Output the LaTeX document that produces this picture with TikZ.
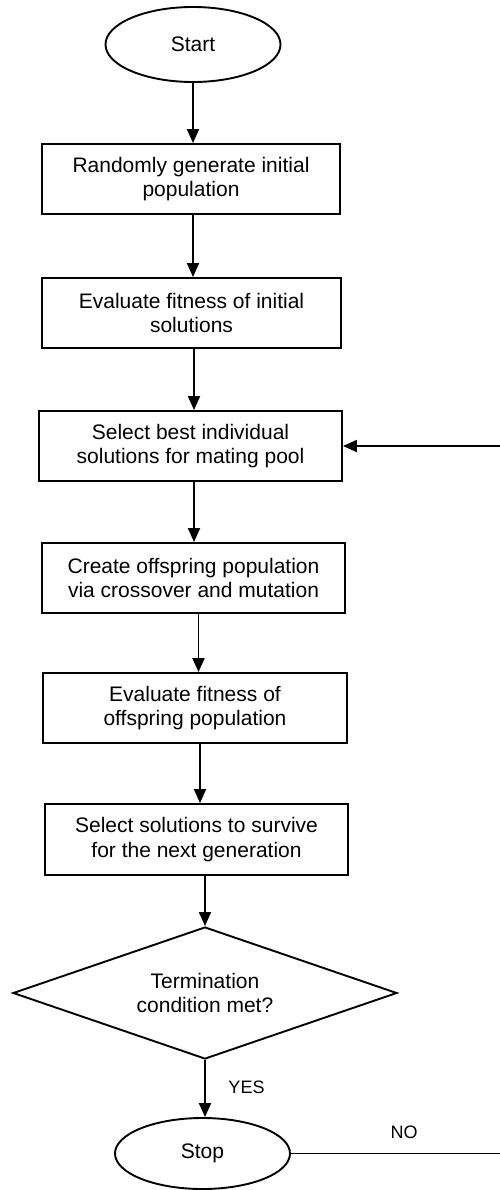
\documentclass[tikz,border=0pt]{standalone}
\usepackage{fontspec}
\setmainfont{Liberation Sans}
\usetikzlibrary{arrows.meta,shapes.geometric}
\begin{document}
\begin{tikzpicture}[x=1pt,y=-1pt,
  every node/.style={font=\fontsize{21}{24.5}\selectfont},
  line/.style={line width=1.9pt},
  arr/.style={line, -{Triangle[length=14pt,width=12pt]}},
  stepbox/.style={draw, line width=1.9pt, rectangle, inner sep=0pt,
    minimum height=70pt, align=center},
  terminal/.style={draw, line width=1.9pt, ellipse, inner sep=0pt,
    minimum width=175pt},
  decision/.style={draw, line width=1.9pt, diamond, aspect=2.9, inner sep=0pt,
    minimum width=384pt, minimum height=132pt, align=center},
  label/.style={font=\fontsize{18}{21}\selectfont}]
  % page frame
  \useasboundingbox (0,0) rectangle (499,1190);

  % flow steps
  \node[terminal, minimum height=75pt] (start) at (193,44.5) {Start};
  \node[stepbox, minimum width=298pt] (b1) at (191,179)
    {Randomly generate initial\\population};
  \node[stepbox, minimum width=299pt] (b2) at (191.5,313)
    {Evaluate fitness of initial\\solutions};
  \node[stepbox, minimum width=303pt] (b3) at (190.5,446)
    {Select best individual\\solutions for mating pool};
  \node[stepbox, minimum width=303pt] (b4) at (193.5,578)
    {Create offspring population\\via crossover and mutation};
  \node[stepbox, minimum width=304pt] (b5) at (195,708)
    {Evaluate fitness of\\offspring population};
  \node[stepbox, minimum width=303pt, minimum height=71pt] (b6) at (196.5,839.5)
    {Select solutions to survive\\for the next generation};
  \node[decision] (dec) at (205,993) {Termination\\condition met?};
  \node[terminal, minimum height=71pt] (stop) at (202.5,1153.5) {Stop};

  % connectors
  \draw[arr] (start.south) -- (start.south |- b1.north);
  \draw[arr] ([xshift=2pt]b1.south) -- ([xshift=2pt]b1.south |- b2.north);
  \draw[arr] ([xshift=2.5pt]b2.south) -- ([xshift=2.5pt]b2.south |- b3.north);
  \draw[arr] ([xshift=3.5pt]b3.south) -- ([xshift=3.5pt]b3.south |- b4.north);
  \draw[arr] ([xshift=5pt]b4.south) -- ([xshift=5pt]b4.south |- b5.north);
  \draw[arr] ([xshift=5pt]b5.south) -- ([xshift=5pt]b5.south |- b6.north);
  \draw[arr] (b6.south -| dec.north) -- (dec.north);
  \draw[arr] (dec.south) -- (dec.south |- stop.north);

  % loop back for another generation
  \coordinate (loopbot) at (503,1153.5);
  \coordinate (looptop) at (503,446);
  \draw[arr] (stop.east) -- (loopbot) -- (looptop) -- (b3.east);

  % branch labels
  \node[label] (yes) at (246.5,1087) {YES};
  \node[label] (no) at (404,1132) {NO};
\end{tikzpicture}
\end{document}
